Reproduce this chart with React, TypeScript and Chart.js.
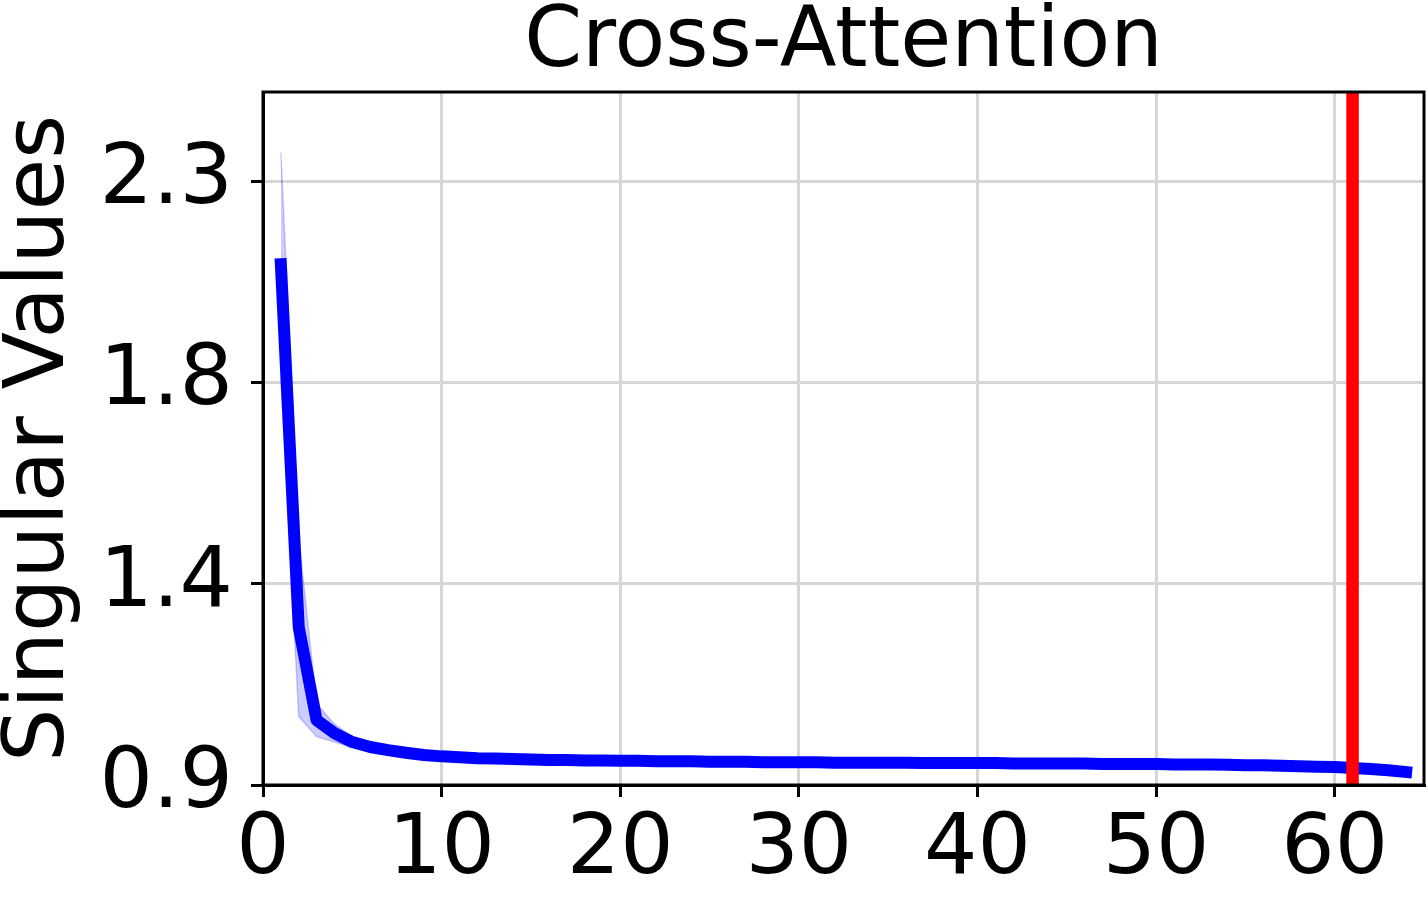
import React, { useEffect, useRef } from "react";
import { Chart, registerables } from "chart.js";

Chart.register(...registerables);

const chartTitle = "Cross-Attention";
const yAxisLabel = "Singular Values";

const ranks = [
  1, 2, 3, 4, 5, 6, 7, 8, 9, 10, 11, 12, 13, 14, 15, 16, 17, 18, 19, 20, 21, 22,
  23, 24, 25, 26, 27, 28, 29, 30, 31, 32, 33, 34, 35, 36, 37, 38, 39, 40, 41, 42,
  43, 44, 45, 46, 47, 48, 49, 50, 51, 52, 53, 54, 55, 56, 57, 58, 59, 60, 61, 62,
  63, 64,
];

const meanValues = [
  2.064, 1.253, 1.045, 1.016, 0.996, 0.985, 0.978, 0.972, 0.967, 0.964,
  0.962, 0.96, 0.959, 0.958, 0.957, 0.956, 0.956, 0.955, 0.955, 0.954,
  0.954, 0.953, 0.953, 0.953, 0.952, 0.952, 0.952, 0.951, 0.951, 0.951,
  0.951, 0.95, 0.95, 0.95, 0.95, 0.95, 0.949, 0.949, 0.949, 0.949,
  0.949, 0.948, 0.948, 0.948, 0.948, 0.948, 0.947, 0.947, 0.947, 0.947,
  0.946, 0.946, 0.946, 0.945, 0.944, 0.944, 0.943, 0.942, 0.941, 0.94,
  0.938, 0.936, 0.933, 0.929,
];

const spreadValues = [
  0.25, 0.2, 0.037, 0.02, 0.012, 0.009, 0.007, 0.006, 0.005, 0.005,
  0.005, 0.004, 0.004, 0.004, 0.004, 0.004, 0.004, 0.004, 0.004, 0.004,
  0.004, 0.004, 0.004, 0.004, 0.004, 0.004, 0.004, 0.004, 0.004, 0.004,
  0.004, 0.004, 0.004, 0.004, 0.004, 0.004, 0.004, 0.004, 0.004, 0.004,
  0.004, 0.004, 0.004, 0.004, 0.004, 0.004, 0.004, 0.004, 0.004, 0.004,
  0.004, 0.004, 0.004, 0.004, 0.004, 0.004, 0.004, 0.004, 0.004, 0.004,
  0.004, 0.004, 0.004, 0.004,
];

const cutoffRank = 61;

const xTickValues = [0, 10, 20, 30, 40, 50, 60];
const xTickLabels = ["0", "10", "20", "30", "40", "50", "60"];
const yTickValues = [0.9, 1.35, 1.8, 2.25];
const yTickLabels = ["0.9", "1.4", "1.8", "2.3"];

const xMin = 0;
const xMax = 65;
const yMin = 0.9;
const yMax = 2.449;

const FONT = "'DejaVu Sans', 'Liberation Sans', sans-serif";

export default function App() {
  const canvasRef = useRef<HTMLCanvasElement | null>(null);

  useEffect(() => {
    const canvas = canvasRef.current;
    if (!canvas) return;

    const meanPoints = ranks.map((r, i) => ({ x: r, y: meanValues[i] }));
    const lowerPoints = ranks.map((r, i) => ({ x: r, y: meanValues[i] - spreadValues[i] }));
    const upperPoints = ranks.map((r, i) => ({ x: r, y: meanValues[i] + spreadValues[i] }));
    const cutoffPoints = [
      { x: cutoffRank, y: yMin },
      { x: cutoffRank, y: yMax },
    ];

    const framePlugin = {
      id: "frame",
      afterDraw(chart: any) {
        const { ctx, chartArea } = chart;
        ctx.save();
        ctx.strokeStyle = "#000000";
        ctx.lineWidth = 3;
        ctx.strokeRect(
          chartArea.left,
          chartArea.top,
          chartArea.right - chartArea.left,
          chartArea.bottom - chartArea.top
        );
        ctx.restore();
      },
    };

    const chart = new Chart(canvas, {
      type: "line",
      data: {
        datasets: [
          {
            label: "cutoff",
            data: cutoffPoints,
            borderColor: "#ff0000",
            borderWidth: 12.5,
            borderCapStyle: "butt",
            pointRadius: 0,
            fill: false,
            clip: 0,
          } as any,
          {
            label: "mean",
            data: meanPoints,
            borderColor: "#0000ff",
            borderWidth: 12,
            borderCapStyle: "square",
            borderJoinStyle: "round",
            pointRadius: 0,
            tension: 0,
            fill: false,
          },
          {
            label: "lower",
            data: lowerPoints,
            borderColor: "rgba(0,0,255,0.2)",
            borderWidth: 1.5,
            pointRadius: 0,
            tension: 0,
            fill: false,
          },
          {
            label: "upper",
            data: upperPoints,
            borderColor: "rgba(0,0,255,0.2)",
            backgroundColor: "rgba(0,0,255,0.2)",
            borderWidth: 1.5,
            pointRadius: 0,
            tension: 0,
            fill: 2,
          } as any,
        ],
      },
      options: {
        responsive: false,
        animation: false,
        events: [],
        layout: { padding: { top: 0, right: 4, bottom: 0, left: 0 } },
        plugins: {
          legend: { display: false },
          tooltip: { enabled: false },
          title: {
            display: true,
            text: chartTitle,
            fullSize: false,
            color: "#000000",
            font: { family: FONT, size: 83, weight: "normal", lineHeight: 1 },
            padding: { top: 3, bottom: 6 },
          },
        },
        scales: {
          x: {
            type: "linear",
            min: xMin,
            max: xMax,
            afterFit(scale: any) {
              scale.height = 113;
            },
            afterBuildTicks(scale: any) {
              scale.ticks = xTickValues.map((v) => ({ value: v }));
            },
            ticks: {
              autoSkip: false,
              maxRotation: 0,
              padding: 4,
              color: "#000000",
              font: { family: FONT, size: 84 },
              callback: (v: any) => {
                const i = xTickValues.indexOf(Number(v));
                return i >= 0 ? xTickLabels[i] : "";
              },
            },
            grid: {
              color: "#d6d6d6",
              lineWidth: 3,
              drawTicks: true,
              tickLength: 12,
              tickColor: "#000000",
              tickWidth: 3,
            },
            border: { display: true, color: "#000000", width: 3 },
          },
          y: {
            type: "linear",
            min: yMin,
            max: yMax,
            afterFit(scale: any) {
              scale.width = 263;
            },
            afterBuildTicks(scale: any) {
              scale.ticks = yTickValues.map((v) => ({ value: v }));
            },
            ticks: {
              autoSkip: false,
              padding: 18,
              color: "#000000",
              font: { family: FONT, size: 84 },
              callback: (v: any) => {
                let best = 0;
                let bestD = Infinity;
                yTickValues.forEach((t, i) => {
                  const d = Math.abs(t - Number(v));
                  if (d < bestD) {
                    bestD = d;
                    best = i;
                  }
                });
                return yTickLabels[best];
              },
            },
            grid: {
              color: "#d6d6d6",
              lineWidth: 3,
              drawTicks: true,
              tickLength: 12,
              tickColor: "#000000",
              tickWidth: 3,
            },
            border: { display: true, color: "#000000", width: 3 },
            title: {
              display: true,
              text: yAxisLabel,
              color: "#000000",
              font: { family: FONT, size: 84, lineHeight: 0.97 },
              padding: { top: 0, bottom: 0 },
            },
          },
        },
      } as any,
      plugins: [framePlugin],
    });

    return () => {
      chart.destroy();
    };
  }, []);

  return (
    <div
      style={{
        position: "fixed",
        left: 0,
        top: 0,
        width: 1428,
        height: 898,
        background: "#ffffff",
      }}
    >
      <canvas ref={canvasRef} width={1428} height={898} />
    </div>
  );
}
